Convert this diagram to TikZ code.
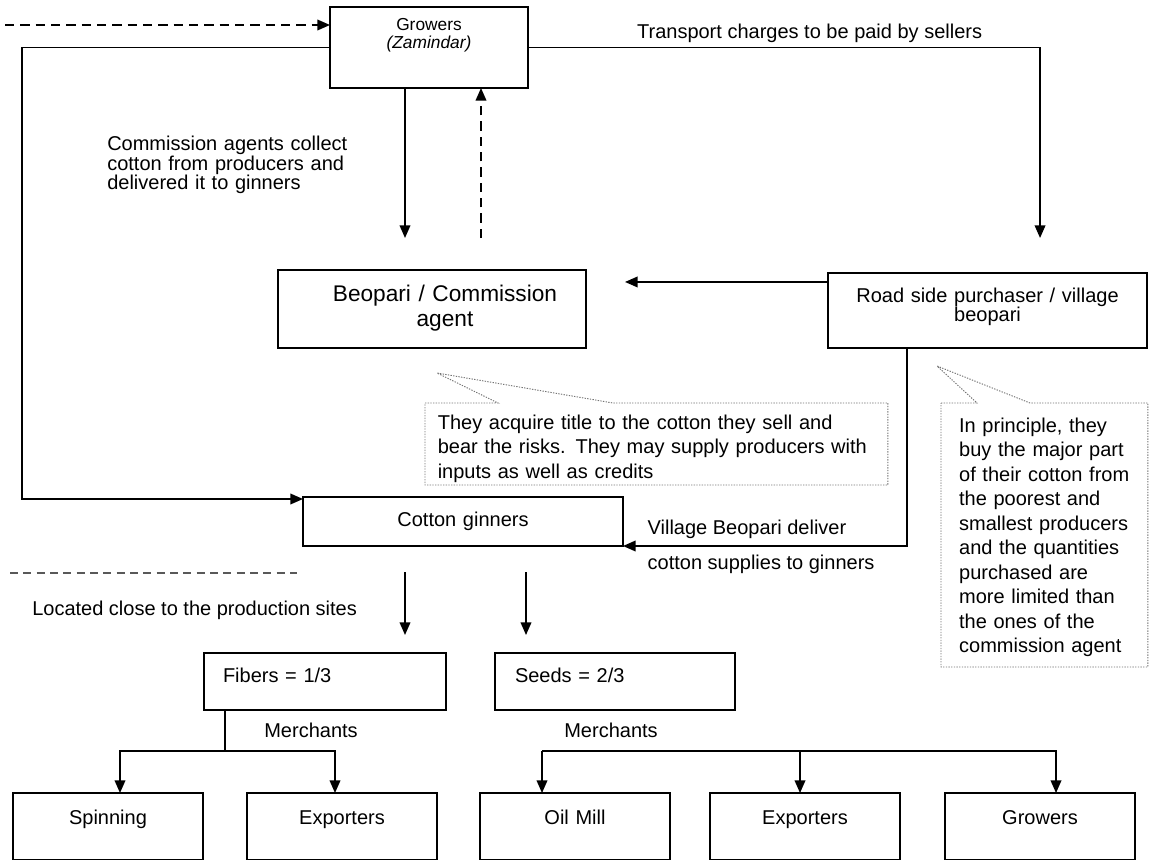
\documentclass[tikz,border=0pt]{standalone}
\usepackage{fontspec}
\setmainfont{Liberation Sans}
\usetikzlibrary{arrows.meta,positioning,calc}

\begin{document}
\begin{tikzpicture}[
  x=0.75pt,y=-0.75pt,
  box/.style={draw,line width=1pt,outer sep=0pt,inner xsep=0pt,inner ysep=0pt,align=center,anchor=north west,font=\fontsize{15}{16.5}\selectfont},
  part/.style={box,align=left,text width=153pt,inner xsep=14.25pt,text height=21.75pt,text depth=21pt},
  leaf/.style={box,text width=142.5pt,text height=23.25pt,text depth=27pt},
  notetxt/.style={inner ysep=0pt,outer sep=0pt,align=left,anchor=north west,font=\fontsize{15}{18.4}\selectfont},
  note/.style={draw=black!55,line width=0.7pt,dash pattern=on 1pt off 1pt},
  lab/.style={inner sep=0pt,font=\fontsize{15}{16.5}\selectfont},
  arr/.style={-{Triangle[length=9.5pt,width=8pt]},line width=1.2pt},
  darr/.style={arr,dash pattern=on 7pt off 4.5pt},
  sepline/.style={draw=black!65,line width=0.9pt,dash pattern=on 6pt off 4pt}
]
\useasboundingbox (0,0) rectangle (1151,859);

% boxes
\node[box,text width=148.5pt,text height=18pt,text depth=42.75pt,font=\fontsize{13}{13.5}\selectfont] (grow) at (330,7) {Growers\hspace*{21pt}\\\textit{(Zamindar)}\hspace*{21pt}};
\node[box,text width=231pt,text height=23.25pt,text depth=35.25pt,font=\fontsize{17}{18.75}\selectfont] (beo) at (278,270) {\hspace*{19.5pt}Beopari / Commission\\\hspace*{19.5pt}agent};
\node[box,text width=239.25pt,text height=21.75pt,text depth=34.5pt,font=\fontsize{15}{14.5}\selectfont] (road) at (828,273) {Road side purchaser / village\\beopari};
\node[box,text width=240pt,text height=21.75pt,text depth=15pt] (gin) at (303,497) {Cotton ginners};
\node[part] (fib) at (204,653) {Fibers = 1/3};
\node[part,text width=150pt,inner xsep=15pt,right=36.75pt of fib] (seed) {Seeds = 2/3};
\node[leaf] (spin) at (13,793) {Spinning};
\node[leaf,right=33pt of spin] (expa) {Exporters};
\node[leaf,right=32.25pt of expa] (oil) {Oil Mill};
\node[leaf,right=30pt of oil] (expb) {Exporters};
\node[leaf,right=33.75pt of expb] (grob) {Growers};

% notes
\node[notetxt,text width=328pt,inner xsep=9.6pt,text height=19.5pt,text depth=42pt] (nbeo) at (425,403) {They acquire title to the cotton they sell and\\bear the risks. They may supply producers with\\inputs as well as credits};
\node[notetxt,text width=128pt,inner xsep=13.6pt,text height=21.75pt,text depth=176.25pt] (nroad) at (941,403) {In principle, they\\buy the major part\\of their cotton from\\the poorest and\\smallest producers\\and the quantities\\purchased are\\more limited than\\the ones of the\\commission agent};
\node[lab,align=left,anchor=north west,text width=190pt,font=\fontsize{15}{14.6}\selectfont] (cmt) at (107,136) {Commission agents collect\\cotton from producers and\\delivered it to ginners};
\node[lab,anchor=west] (loc) at (32,610) {Located close to the production sites};
\node[lab] (mera) at (311,730) {Merchants};
\node[lab] (merb) at (611,730) {Merchants};

\coordinate (dsrc) at (5,25);
\coordinate (lft) at (22,499);
\coordinate (sepa) at (10,573);
\coordinate (sepb) at (297,573);
\coordinate (fm) at (225,751);
\coordinate (sm) at (542,751);
\coordinate (tipa) at (437,373);
\coordinate (tipb) at (937,366);

\draw[note] (nbeo.north west) -- ([xshift=54.75pt]nbeo.north west) -- (tipa) -- ([xshift=141pt]nbeo.north west) -- (nbeo.north east) -- (nbeo.south east) -- (nbeo.south west) -- cycle;
\draw[note] (nroad.north west) -- ([xshift=27pt]nroad.north west) -- (tipb) -- ([xshift=66.75pt]nroad.north west) -- (nroad.north east) -- (nroad.south east) -- (nroad.south west) -- cycle;

% connectors
\draw[darr] (dsrc) -- (dsrc -| grow.west);
\draw[arr] (grow.west) -| (lft) -- (lft -| gin.west);
\draw[arr,shorten >=24pt] ([xshift=-18pt]grow.south) -- ([xshift=-18pt]grow.south |- beo.north);
\draw[darr,shorten <=24pt] ([xshift=39pt]grow.south |- beo.north) -- ([xshift=39pt]grow.south);
\draw[arr,shorten >=26.25pt] (grow.east) -| ([xshift=39.4pt]road.north) node[lab,above=3pt,pos=0.275]{Transport charges to be paid by sellers};
\draw[arr,shorten >=29.25pt] ([yshift=21.4pt]road.west) -- ([yshift=21.4pt]road.west -| beo.east);
\draw[arr] ([xshift=-60.4pt]road.south) |- (gin.south east)
  node[lab,anchor=south west,pos=0.958,yshift=5.25pt]{Village Beopari deliver}
  node[lab,anchor=north west,pos=0.958,yshift=-6pt]{cotton supplies to ginners};
\draw[arr,shorten <=19.5pt,shorten >=13.5pt] ([xshift=-43.5pt]gin.south) -- ([xshift=-43.5pt]gin.south |- fib.north);
\draw[arr,shorten <=19.5pt,shorten >=13.5pt] ([xshift=47.25pt]gin.south) -- ([xshift=47.25pt]gin.south |- seed.north);
\draw[sepline] (sepa) -- (sepb);

% fibers and seeds
\draw[line width=1.2pt] (fm |- fib.south) -- (fm);
\draw[arr] (fm) -| ([xshift=9pt]spin.north);
\draw[arr] (fm) -| ([xshift=-5.25pt]expa.north);
\draw[arr] (sm) -- (sm |- oil.north);
\draw[arr] (sm) -| ([xshift=-3.75pt]expb.north);
\draw[arr] (sm) -| ([xshift=12pt]grob.north);
\end{tikzpicture}
\end{document}
